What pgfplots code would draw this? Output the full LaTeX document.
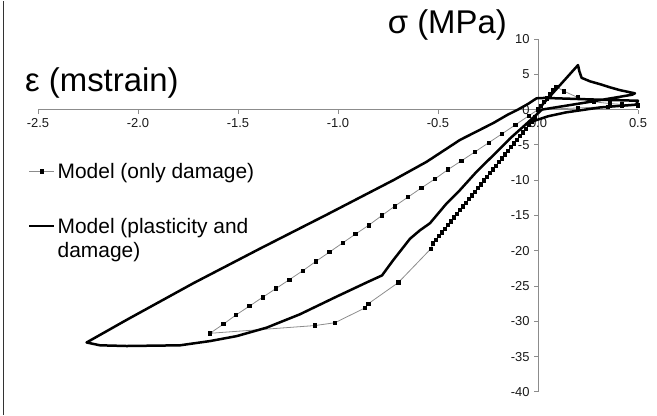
\documentclass[border=0pt]{standalone}
\usepackage{fontspec}
\setmainfont{Liberation Sans}
\usepackage{pgfplots}
\pgfplotsset{compat=1.18}
\usetikzlibrary{calc}
\begin{document}
\begin{tikzpicture}
\begin{axis}[
  scale only axis, width=600bp, height=352.9bp,
  xmin=-2.5, xmax=0.5, ymin=-40, ymax=10,
  axis lines=middle,
  axis line style={-, draw=black!45, line width=0.9pt},
  xtick={-2.5,-2,-1.5,-1,-0.5,0,0.5},
  ytick={-40,-35,-30,-25,-20,-15,-10,-5,0,5,10},
  hide obscured x ticks=false, hide obscured y ticks=false,
  tick align=center, major tick length=4bp,
  tick style={black!45, line width=0.8pt},
  x tick style={yshift=-2bp}, y tick style={xshift=-2bp},
  yticklabel pos=left, xticklabel pos=bottom,
  xticklabel style={/pgf/number format/fixed, /pgf/number format/fixed zerofill, /pgf/number format/precision=1, anchor=north, yshift=-3bp},
  yticklabel style={anchor=east, xshift=-3bp},
  /pgf/number format/assume math mode=true,
  ticklabel style={font=\fontsize{13}{15}\selectfont, text=black!90},
  clip=false,
  legend cell align=left,
  legend image code/.code={\draw[mark repeat=2,mark phase=2,#1] plot coordinates {(0bp,0bp) (12.5bp,0bp) (25bp,0bp)};},
  legend style={at={(axis cs:-2.565,-7.0)}, anchor=north west, draw=none, fill=none,
    font=\fontsize{21}{24}\selectfont, row sep=33bp, cells={anchor=west}},
]
\addplot[black!45, line width=0.8pt, mark=square*, mark size=1.7bp, mark options={black, solid}] coordinates {
(0,0) (0.015,0.5) (0.03,1.05) (0.045,1.6) (0.06,2.15) (0.075,2.7) (0.09,3.25)
(0.13,2.6) (0.2,1.7) (0.28,1.1) (0.36,0.85) (0.42,0.72) (0.5,0.6)
(0.42,0.48) (0.35,0.4) (0.2,0.23) (0,0)
(-0.015,-1.125) (-0.030,-1.65) (-0.045,-2.175) (-0.060,-2.70) (-0.075,-3.225)
(-0.090,-3.75) (-0.105,-4.275) (-0.120,-4.80) (-0.135,-5.325) (-0.150,-5.85)
(-0.165,-6.375) (-0.180,-6.90) (-0.195,-7.425) (-0.210,-7.95) (-0.225,-8.475)
(-0.240,-9.00) (-0.255,-9.525) (-0.270,-10.05) (-0.285,-10.575) (-0.300,-11.10)
(-0.315,-11.625) (-0.330,-12.15) (-0.345,-12.675) (-0.360,-13.20) (-0.375,-13.725)
(-0.390,-14.25) (-0.405,-14.775) (-0.420,-15.30) (-0.435,-15.825) (-0.450,-16.35)
(-0.465,-16.875) (-0.480,-17.40) (-0.495,-17.925) (-0.510,-18.45) (-0.525,-18.975)
(-0.535,-19.7) (-0.698,-24.5) (-0.848,-27.5) (-0.865,-28.1) (-1.015,-30.2)
(-1.115,-30.6) (-1.640,-31.7)
(-1.573,-30.4) (-1.510,-29.1) (-1.443,-27.85) (-1.377,-26.6) (-1.310,-25.35)
(-1.243,-24.1) (-1.177,-22.85) (-1.110,-21.5) (-1.043,-20.2) (-0.977,-18.9)
(-0.913,-17.65) (-0.847,-16.4) (-0.780,-15.0) (-0.717,-13.7) (-0.650,-12.4)
(-0.583,-11.1) (-0.517,-9.86) (-0.450,-8.5) (-0.383,-7.26) (-0.317,-6.03)
(-0.247,-4.7) (-0.180,-3.44) (-0.113,-2.16) (-0.047,-0.9) (0,0)
};
\addlegendentry{Model (only damage)}
\addplot[black, line width=2.5bp, line join=round, no marks] coordinates {
(0,0) (0.1,3.15) (0.2,6.3) (0.207,5.4) (0.218,4.5) (0.26,4.0) (0.31,3.6)
(0.36,3.15) (0.41,2.75) (0.46,2.45) (0.485,2.3) (0.47,2.1) (0.25,1.05) (0.02,0.0)
(-0.065,-2.2) (-0.14,-4.1) (-0.223,-6.46) (-0.307,-8.8) (-0.39,-11.4) (-0.457,-13.3)
(-0.54,-16.1) (-0.59,-17.1) (-0.64,-18.3) (-0.723,-21.3) (-0.78,-23.5) (-0.857,-24.5)
(-1.007,-26.5) (-1.19,-29.0) (-1.357,-30.9) (-1.507,-32.1) (-1.64,-32.8) (-1.79,-33.4)
(-2.057,-33.5) (-2.19,-33.4) (-2.257,-33.0)
(-2.057,-29.8) (-1.723,-24.6) (-1.39,-19.7) (-1.057,-14.9) (-0.723,-10.0)
(-0.557,-7.4) (-0.39,-4.3) (-0.223,-1.9) (-0.15,-0.7) (-0.1,0.0) (-0.05,0.8)
(-0.007,1.6) (0.035,1.65) (0.25,1.45) (0.5,1.25) (0.49,0.7) (0.31,0.3)
(0.14,-0.4) (0.05,-0.95) (-0.03,-1.7) (-0.065,-2.2)
};
\addlegendentry{\begin{tabular}[t]{@{}l@{}}Model (plasticity and\\damage)\end{tabular}}
\node[anchor=west, font=\fontsize{33}{38}\selectfont, inner sep=0pt] at (axis cs:-2.565,3.74) {ε (mstrain)};
\node[anchor=east, font=\fontsize{33}{38}\selectfont, inner sep=0pt] at (axis cs:-0.155,11.95) {σ (MPa)};
\coordinate (bl) at (rel axis cs:0,0);
\coordinate (tr) at (rel axis cs:1,1);
\end{axis}
\pgfresetboundingbox
\path ($(bl)+(-38bp,-23bp)$) rectangle ($(tr)+(19bp,39bp)$);
\draw[black!80, line width=1.2pt] ($(bl)+(-34.5bp,-23bp)$) -- ($(bl)+(-34.5bp,391bp)$);
\end{tikzpicture}
\end{document}
